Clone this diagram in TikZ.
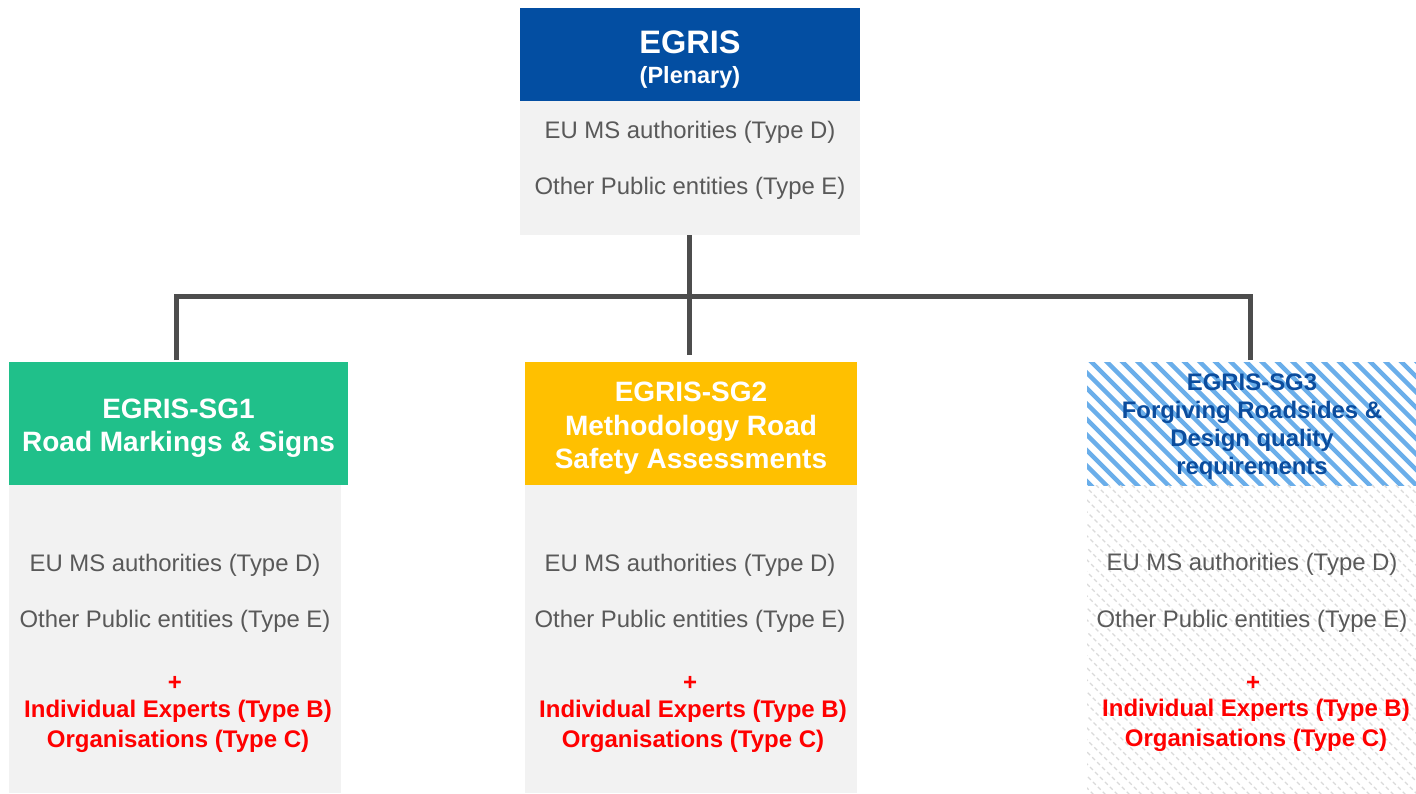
\documentclass[tikz,border=0pt]{standalone}
\usepackage{fontspec}
\setmainfont{Liberation Sans}
\definecolor{egblue}{HTML}{034EA2}
\definecolor{sgthree}{HTML}{0B4D9E}
\definecolor{egstripe}{HTML}{6AAEEA}
\definecolor{eggreen}{HTML}{20C08A}
\definecolor{egyellow}{HTML}{FFC000}
\definecolor{egbody}{HTML}{F2F2F2}
\definecolor{txtgray}{HTML}{595959}
\definecolor{egred}{HTML}{FF0000}
\definecolor{conncol}{HTML}{4D4D4D}
\definecolor{hatchgray}{HTML}{DADADA}
\begin{document}
\begin{tikzpicture}[x=1pt,y=-1pt,
  box/.style={draw=none, inner sep=0, outer sep=0, anchor=north west},
  txt/.style={anchor=base, inner sep=0, outer sep=0, font=\fontsize{23.9}{28}\selectfont, text=txtgray},
  redtxt/.style={txt, text=egred, font=\fontsize{24}{28}\selectfont\bfseries},
  head/.style={anchor=base, inner sep=0, outer sep=0, font=\fontsize{28}{33}\selectfont\bfseries, text=white},
  headthree/.style={anchor=base, inner sep=0, outer sep=0, font=\fontsize{23.9}{28}\selectfont\bfseries, text=sgthree},
  conn/.style={draw=conncol, line width=5pt, line join=miter},
  stripe/.style={draw=egstripe, line width=4.5pt},
  hatch/.style={draw=hatchgray, line width=1.2pt, dash pattern=on 4pt off 3pt}
]
\useasboundingbox (0,0) rectangle (1416,793);

% ---- top box ----
\node[box, fill=egblue, minimum width=340, minimum height=93] (topH) at (520,8) {};
\node[box, fill=egbody, minimum width=340, minimum height=134] (topB) at (520,101) {};
\node[head, font=\fontsize{32.5}{36}\selectfont\bfseries] (topT1) at (690,53.3) {EGRIS};
\node[head, font=\fontsize{23.5}{28}\selectfont\bfseries] (topT2) at (690,83.5) {(Plenary)};
\node[txt] (topL1) at (690,138) {EU MS authorities (Type D)};
\node[txt] (topL2) at (690,194.5) {Other Public entities (Type E)};

% ---- SG1 ----
\node[box, fill=eggreen, minimum width=339, minimum height=123] (sg1H) at (9,362) {};
\node[box, fill=egbody, minimum width=332, minimum height=308] (sg1B) at (9,485) {};
\node[head] (sg1T1) at (178.5,418) {EGRIS-SG1};
\node[head] (sg1T2) at (178.5,451.5) {Road Markings \& Signs};
\node[txt] (sg1L1) at (175,571) {EU MS authorities (Type D)};
\node[txt] (sg1L2) at (175,627.5) {Other Public entities (Type E)};
\node[redtxt] (sg1L3) at (175,690) {+};
\node[redtxt] (sg1L4) at (178,717) {Individual Experts (Type B)};
\node[redtxt] (sg1L5) at (178,747) {Organisations (Type C)};

% ---- SG2 ----
\node[box, fill=egyellow, minimum width=332, minimum height=123] (sg2H) at (525,362) {};
\node[box, fill=egbody, minimum width=332, minimum height=308] (sg2B) at (525,485) {};
\node[head] (sg2T1) at (691,401) {EGRIS-SG2};
\node[head] (sg2T2) at (691,435) {Methodology Road};
\node[head] (sg2T3) at (691,468) {Safety Assessments};
\node[txt] (sg2L1) at (690,571) {EU MS authorities (Type D)};
\node[txt] (sg2L2) at (690,627.5) {Other Public entities (Type E)};
\node[redtxt] (sg2L3) at (690,690) {+};
\node[redtxt] (sg2L4) at (693,717) {Individual Experts (Type B)};
\node[redtxt] (sg2L5) at (693,747) {Organisations (Type C)};

% ---- SG3 ----
\node[box, fill=white, minimum width=329, minimum height=123] (sg3H) at (1087,362) {};
\node[box, fill=white, minimum width=329, minimum height=308] (sg3B) at (1087,485) {};
\begin{scope}
  \clip (sg3H.north west) rectangle (sg3H.south east);
  \foreach \i in {0,...,32} {
    \draw[stripe] (1087-140+\i*15.5,357) -- ++(140,140);
  }
\end{scope}
\begin{scope}
  \clip (sg3B.north west) rectangle (sg3B.south east);
  \foreach \i in {0,...,56} {
    \draw[hatch] (1087-320+\i*12,480) -- ++(320,320);
  }
\end{scope}
\node[headthree] (sg3T1) at (1252,390) {EGRIS-SG3};
\node[headthree] (sg3T2) at (1252,418) {Forgiving Roadsides \&};
\node[headthree] (sg3T3) at (1252,446) {Design quality};
\node[headthree] (sg3T4) at (1252,474) {requirements};
\node[txt] (sg3L1) at (1252,570.5) {EU MS authorities (Type D)};
\node[txt] (sg3L2) at (1252,627) {Other Public entities (Type E)};
\node[redtxt] (sg3L3) at (1253,690) {+};
\node[redtxt] (sg3L4) at (1256,716) {Individual Experts (Type B)};
\node[redtxt] (sg3L5) at (1256,746) {Organisations (Type C)};

% ---- connectors ----
\coordinate (hub) at (689,296);
\draw[conn] ([xshift=-1pt]topB.south) -- ([xshift=-2pt,yshift=7pt]sg2H.north);
\draw[conn] ([xshift=-2.5pt,yshift=2pt]sg1H.north) |- (hub) -| ([xshift=-1.5pt,yshift=2pt]sg3H.north);
\end{tikzpicture}
\end{document}
